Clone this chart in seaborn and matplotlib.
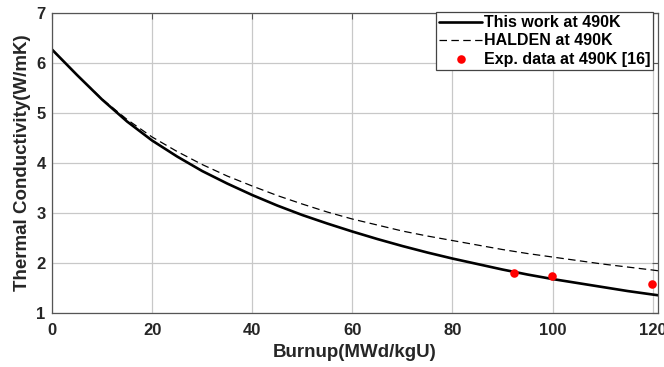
import matplotlib
matplotlib.use("Agg")
import matplotlib.pyplot as plt
import seaborn as sns
import pandas as pd

# ---- data ----
burnup = [0, 5, 10, 15, 20, 25, 30, 35, 40, 45, 50, 55, 60, 65, 70, 75, 80,
          85, 90, 95, 100, 105, 110, 115, 120, 121.5]
this_work = [6.27, 5.76, 5.27, 4.83, 4.45, 4.13, 3.84, 3.59, 3.36, 3.15, 2.96,
             2.79, 2.63, 2.48, 2.34, 2.21, 2.09, 1.98, 1.87, 1.77, 1.68, 1.60,
             1.52, 1.44, 1.37, 1.35]
halden = [6.27, 5.76, 5.28, 4.87, 4.52, 4.23, 3.97, 3.74, 3.54, 3.35, 3.18,
          3.02, 2.88, 2.76, 2.64, 2.54, 2.45, 2.36, 2.27, 2.19, 2.12, 2.05,
          1.98, 1.92, 1.86, 1.84]
exp_burnup = [92.3, 99.8, 119.8]
exp_k = [1.81, 1.75, 1.58]

xticks = [0, 20, 40, 60, 80, 100, 120]
yticks = [1, 2, 3, 4, 5, 6, 7]

sns.set_style("white")
plt.rcParams['font.family'] = ['Liberation Sans', 'DejaVu Sans']
plt.rcParams['font.weight'] = 'bold'

text_c = '#262626'
fig = plt.figure(figsize=(6.64, 3.67), dpi=100)
ax = fig.add_axes([0.0783, 0.147, 0.9122, 0.8176])

df_work = pd.DataFrame({'x': burnup, 'y': this_work})
df_halden = pd.DataFrame({'x': burnup, 'y': halden})
df_exp = pd.DataFrame({'x': exp_burnup, 'y': exp_k})

sns.lineplot(data=df_work, x='x', y='y', color='black', linewidth=1.9, ax=ax,
             label='This work at 490K')
sns.lineplot(data=df_halden, x='x', y='y', color='black', linewidth=0.9, ax=ax,
             label='HALDEN at 490K')
ax.lines[-1].set_dashes([6, 3.5])
sns.scatterplot(data=df_exp, x='x', y='y', color='red', s=38, edgecolor='red',
                linewidth=0, ax=ax, label='Exp. data at 490K [16]', zorder=5)

ax.set_xlim(0, 121)
ax.set_ylim(1, 7)
ax.set_xticks(xticks)
ax.set_yticks(yticks)
ax.grid(True, color='#c8c8c8', linewidth=0.9)
ax.set_axisbelow(True)
for s in ax.spines.values():
    s.set_visible(True)
    s.set_color('#555555')
    s.set_linewidth(0.9)

ax.tick_params(axis='both', direction='in', length=4, width=0.8, color='#555555',
               top=True, right=True, labelsize=12, labelcolor=text_c)
ax.tick_params(axis='x', pad=7.5)
ax.tick_params(axis='y', pad=4.5)
for lab in ax.get_xticklabels() + ax.get_yticklabels():
    lab.set_fontweight('bold')

ax.set_xlabel('Burnup(MWd/kgU)', fontsize=13.5, fontweight='bold', color=text_c, labelpad=4)
ax.set_ylabel('Thermal Conductivity(W/mK)', fontsize=13.5, fontweight='bold', color=text_c, labelpad=4)

leg = ax.legend(loc='upper right', bbox_to_anchor=(0.993, 1.003), fontsize=11.5,
                frameon=True, fancybox=False, framealpha=1, edgecolor='#444444',
                handlelength=2.7, handletextpad=0.1, borderpad=0.2, labelspacing=0.2,
                borderaxespad=0, markerscale=1.0)
leg.get_frame().set_linewidth(0.9)
for t in leg.get_texts():
    t.set_fontweight('bold')
    t.set_color('black')

fig.savefig('out.png', dpi=100)
